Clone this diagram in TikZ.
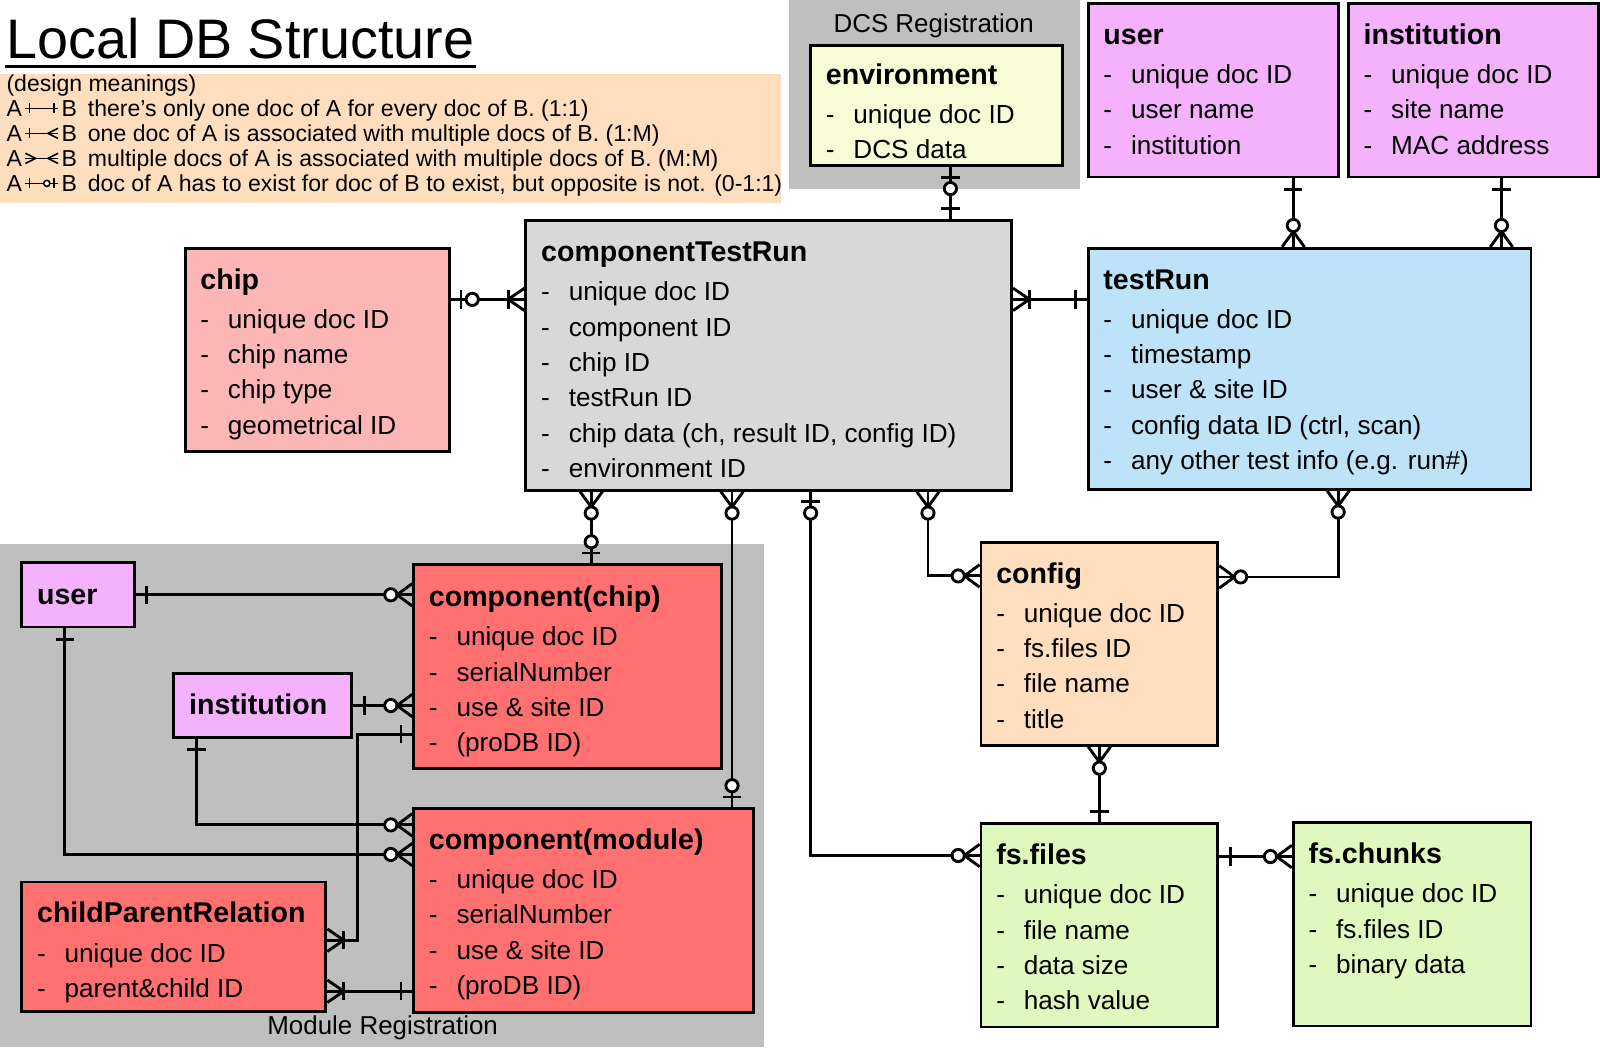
\documentclass[tikz,border=0pt]{standalone}
\usepackage{fontspec}
\setmainfont{Liberation Sans}
\usetikzlibrary{positioning,decorations.markings}

\definecolor{legendbg}{RGB}{255,222,192}
\definecolor{regiongray}{RGB}{191,191,191}
\definecolor{envyellow}{RGB}{248,252,214}
\definecolor{userpink}{RGB}{244,178,252}
\definecolor{ctrgray}{RGB}{216,216,216}
\definecolor{chippink}{RGB}{252,182,182}
\definecolor{runblue}{RGB}{190,226,248}
\definecolor{compred}{RGB}{255,112,112}
\definecolor{configpeach}{RGB}{255,222,192}
\definecolor{fsgreen}{RGB}{222,248,190}

% title line and list lines inside the boxes
\newcommand\enthead[1]{{\bfseries\fontsize{14}{17.3}\selectfont\rule{0pt}{11pt}#1}}
\newcommand\entitem[1]{\makebox[13.5pt][l]{-}#1}

% relation ends: box edge at the origin, line going along +x
\newcommand\erone{\draw (11,-9) -- (11,9);}
\newcommand\erzeroone{\draw (10,-9) -- (10,9); \draw[fill=white] (21,0) circle[radius=6];}
\newcommand\eronemany{\draw (0,-11) -- (16,0) -- (0,11); \draw (16,-9) -- (16,9);}
\newcommand\erzeromany{\draw (0,-11) -- (15,0) -- (0,11); \draw[fill=white] (21,0) circle[radius=6];}
% small ones for the legend
\newcommand\legone{\draw (4,-5) -- (4,5);}
\newcommand\legmany{\draw (0,-5) -- (10,0) -- (0,5);}
\newcommand\legzeroone{\draw (4,-5) -- (4,5); \draw[fill=white] (11,0) circle[radius=3];}

\begin{document}
\begin{tikzpicture}[
        x=0.5pt, y=-0.5pt,
        line width=1.4pt,
        entity/.style={draw, anchor=north west, inner sep=0pt},
        enttext/.style={anchor=north west, inner sep=0pt, align=left,
            font=\fontsize{12.8}{17.3}\selectfont},
        region/.style={anchor=base, inner sep=0pt, font=\fontsize{12.7}{15}\selectfont},
        legtext/.style={inner xsep=1pt, inner ysep=0pt, font=\fontsize{11.3}{13}\selectfont},
        legline/.style={line width=0.75pt},
        src end/.style={postaction={decorate,decoration={markings,
            mark=at position 0 with {#1}}}},
        dst end/.style={postaction={decorate,decoration={markings,
            mark=at position 1 with {\begin{scope}[xscale=-1]#1\end{scope}}}}}
    ]
    \useasboundingbox (0,0) rectangle (1568,1027);

%%
% backgrounds: legend, DCS and module registration
    \fill[legendbg] (0,73) rectangle (765,199);
    \fill[regiongray] (773,0) rectangle (1058,185);
    \fill[regiongray] (0,533) rectangle (749,1026);
    \node (dcslabel) [region] at (915,32) {DCS Registration};
    \node (modlabel) [region] at (375,1014) {Module Registration};

%%
% title and legend
    \node (title) [anchor=base west, inner sep=0pt, font=\fontsize{27.3}{31}\selectfont] at (5,57) {Local DB Structure};
    \draw[line width=1.5pt] ([yshift=-4pt]title.base west) -- ([yshift=-4pt]title.base east);

    \node (legtitle) [legtext, anchor=base west] at (3,89.5) {(design meanings)};
    \node (a1) [legtext, anchor=base west] at (3,114) {A};
    \node (b1) [legtext, base right=16pt of a1] {B};
    \node (t1) [legtext, base right=2pt of b1] {there’s only one doc of A for every doc of B. (1:1)};
    \node (a2) [legtext, anchor=base west] at (3,138.5) {A};
    \node (b2) [legtext, base right=16pt of a2] {B};
    \node (t2) [legtext, base right=2pt of b2] {one doc of A is associated with multiple docs of B. (1:M)};
    \node (a3) [legtext, anchor=base west] at (3,163) {A};
    \node (b3) [legtext, base right=16pt of a3] {B};
    \node (t3) [legtext, base right=2pt of b3] {multiple docs of A is associated with multiple docs of B. (M:M)};
    \node (a4) [legtext, anchor=base west] at (3,187.5) {A};
    \node (b4) [legtext, base right=16pt of a4] {B};
    \node (t4) [legtext, base right=2pt of b4] {doc of A has to exist for doc of B to exist, but opposite is not. (0-1:1)};
    \draw[legline, src end=\legone, dst end=\legone] (a1) -- (b1);
    \draw[legline, src end=\legone, dst end=\legmany] (a2) -- (b2);
    \draw[legline, src end=\legmany, dst end=\legmany] (a3) -- (b3);
    \draw[legline, src end=\legone, dst end=\legzeroone] (a4) -- (b4);

%%
% upper row: environment, user, institution
    \node (env) [entity, fill=envyellow, minimum width=123.5pt, minimum height=59pt] at (793,43) {};
    \node (env-t) [enttext, below right=8pt and 7.5pt of env.north west]
        {\enthead{environment}\\[1.9pt] \entitem{unique doc ID}\\ \entitem{DCS data}};
    \node (usert) [entity, fill=userpink, minimum width=122.5pt, minimum height=85pt] at (1065,2) {};
    \node (usert-t) [enttext, below right=9pt and 7.5pt of usert.north west]
        {\enthead{user}\\[1.9pt] \entitem{unique doc ID}\\ \entitem{user name}\\ \entitem{institution}};
    \node (instt) [entity, fill=userpink, minimum width=122.5pt, minimum height=85pt] at (1320,2) {};
    \node (instt-t) [enttext, below right=9pt and 7.5pt of instt.north west]
        {\enthead{institution}\\[1.9pt] \entitem{unique doc ID}\\ \entitem{site name}\\ \entitem{MAC address}};

%%
% middle row: chip, componentTestRun, testRun
    \node (chip) [entity, fill=chippink, minimum width=129.5pt, minimum height=99.5pt] at (180,242) {};
    \node (chip-t) [enttext, below right=9pt and 7.5pt of chip.north west]
        {\enthead{chip}\\[1.9pt] \entitem{unique doc ID}\\ \entitem{chip name}\\ \entitem{chip type}\\ \entitem{geometrical ID}};
    \node (ctr) [entity, fill=ctrgray, minimum width=238pt, minimum height=132pt] at (514,215) {};
    \node (ctr-t) [enttext, below right=9pt and 7.5pt of ctr.north west]
        {\enthead{componentTestRun}\\[1.9pt] \entitem{unique doc ID}\\ \entitem{component ID}\\ \entitem{chip ID}\\
         \entitem{testRun ID}\\ \entitem{chip data (ch, result ID, config ID)}\\ \entitem{environment ID}};
    \node (testrun) [entity, fill=runblue, minimum width=217pt, minimum height=118pt] at (1065,242) {};
    \node (testrun-t) [enttext, below right=9pt and 7.5pt of testrun.north west]
        {\enthead{testRun}\\[1.9pt] \entitem{unique doc ID}\\ \entitem{timestamp}\\ \entitem{user \& site ID}\\
         \entitem{config data ID (ctrl, scan)}\\ \entitem{any other test info (e.g. run\#)}};

%%
% module registration: user, institution, components, childParentRelation
    \node (userm) [entity, fill=userpink, minimum width=55pt, minimum height=31.5pt] at (20,550) {};
    \node (userm-t) [enttext, below right=9.5pt and 7.5pt of userm.north west] {\enthead{user}};
    \node (instm) [entity, fill=userpink, minimum width=87pt, minimum height=31pt] at (169,659) {};
    \node (instm-t) [enttext, below right=9pt and 7.5pt of instm.north west] {\enthead{institution}};
    \node (compchip) [entity, fill=compred, minimum width=151pt, minimum height=100pt] at (404,552) {};
    \node (compchip-t) [enttext, below right=9.5pt and 7.5pt of compchip.north west]
        {\enthead{component(chip)}\\[1.9pt] \entitem{unique doc ID}\\ \entitem{serialNumber}\\ \entitem{use \& site ID}\\ \entitem{(proDB ID)}};
    \node (compmod) [entity, fill=compred, minimum width=166.5pt, minimum height=100pt] at (404,791) {};
    \node (compmod-t) [enttext, below right=9pt and 7.5pt of compmod.north west]
        {\enthead{component(module)}\\[1.9pt] \entitem{unique doc ID}\\ \entitem{serialNumber}\\ \entitem{use \& site ID}\\ \entitem{(proDB ID)}};
    \node (cpr) [entity, fill=compred, minimum width=149pt, minimum height=63.5pt] at (20,863) {};
    \node (cpr-t) [enttext, below right=9pt and 7.5pt of cpr.north west]
        {\enthead{childParentRelation}\\[1.9pt] \entitem{unique doc ID}\\ \entitem{parent\&child ID}};

%%
% files: config, fs.files, fs.chunks
    \node (config) [entity, fill=configpeach, minimum width=116pt, minimum height=99.5pt] at (960,530) {};
    \node (config-t) [enttext, below right=9pt and 7.5pt of config.north west]
        {\enthead{config}\\[1.9pt] \entitem{unique doc ID}\\ \entitem{fs.files ID}\\ \entitem{file name}\\ \entitem{title}};
    \node (fsfiles) [entity, fill=fsgreen, minimum width=116pt, minimum height=99.5pt] at (960,806) {};
    \node (fsfiles-t) [enttext, below right=9pt and 7.5pt of fsfiles.north west]
        {\enthead{fs.files}\\[1.9pt] \entitem{unique doc ID}\\ \entitem{file name}\\ \entitem{data size}\\ \entitem{hash value}};
    \node (fschunks) [entity, fill=fsgreen, minimum width=116.5pt, minimum height=99.5pt] at (1266,805) {};
    \node (fschunks-t) [enttext, below right=9pt and 7.5pt of fschunks.north west]
        {\enthead{fs.chunks}\\[1.9pt] \entitem{unique doc ID}\\ \entitem{fs.files ID}\\ \entitem{binary data}};

%%
% relations around componentTestRun and testRun
    \draw[src end=\erzeroone, dst end=\erone]
        ([xshift=6.75pt]env.south) -- ([xshift=6.75pt]env.south |- ctr.north);
    \draw[src end=\erone, dst end=\erzeromany]
        ([xshift=39.25pt]usert.south) -- ([xshift=39.25pt]usert.south |- testrun.north);
    \draw[src end=\erone, dst end=\erzeromany]
        ([xshift=13.75pt]instt.south) -- ([xshift=13.75pt]instt.south |- testrun.north);
    \draw[src end=\erzeroone, dst end=\eronemany]
        ([yshift=24.75pt]chip.east) -- ([yshift=24.75pt]chip.east -| ctr.west);
    \draw[src end=\eronemany, dst end=\erone]
        ([yshift=27.5pt]ctr.east) -- ([yshift=27.5pt]ctr.east -| testrun.west);
    \draw[src end=\erzeromany, dst end=\erzeroone]
        ([xshift=-87pt]ctr.south) -- ([xshift=-87pt]ctr.south |- compchip.north);
    \draw[src end=\erzeromany, dst end=\erzeroone]
        ([xshift=-18pt]ctr.south) -- ([xshift=-18pt]ctr.south |- compmod.north);
    \draw[src end=\erzeroone, dst end=\erzeromany]
        ([xshift=20.5pt]ctr.south) |- ([yshift=34.25pt]fsfiles.west);
    \draw[src end=\erzeromany, dst end=\erzeromany]
        ([xshift=78pt]ctr.south) |- ([yshift=33.25pt]config.west);
    \draw[src end=\erzeromany, dst end=\erzeromany]
        ([xshift=14pt]testrun.south) |- ([yshift=32.75pt]config.east);
    \draw[src end=\erzeromany, dst end=\erone]
        (config.south) -- (fsfiles.north);
    \draw[src end=\erone, dst end=\erzeromany]
        ([yshift=33.75pt]fsfiles.east) -- ([yshift=33.75pt]fsfiles.east -| fschunks.west);
%%
% relations inside the module registration
    \draw[src end=\erone, dst end=\erzeromany]
        (userm.east) -- (userm.east -| compchip.west);
    \draw[src end=\erone, dst end=\erzeromany]
        (instm.east) -- (instm.east -| compchip.west);
    \draw[src end=\erone, dst end=\erzeromany]
        ([xshift=-32.5pt]instm.south) |- ([yshift=42pt]compmod.west);
    \draw[src end=\erone, dst end=\erzeromany]
        ([xshift=-6.5pt]userm.south) |- ([yshift=27.5pt]compmod.west);
    \draw[src end=\erone, dst end=\eronemany]
        ([yshift=-33pt]compchip.west) -- ++(-27pt,0) |- ([yshift=3.25pt]cpr.east);
    \draw[src end=\erone, dst end=\eronemany]
        ([yshift=-39.5pt]compmod.west) -- ([yshift=-39.5pt]compmod.west -| cpr.east);

\end{tikzpicture}
\end{document}
